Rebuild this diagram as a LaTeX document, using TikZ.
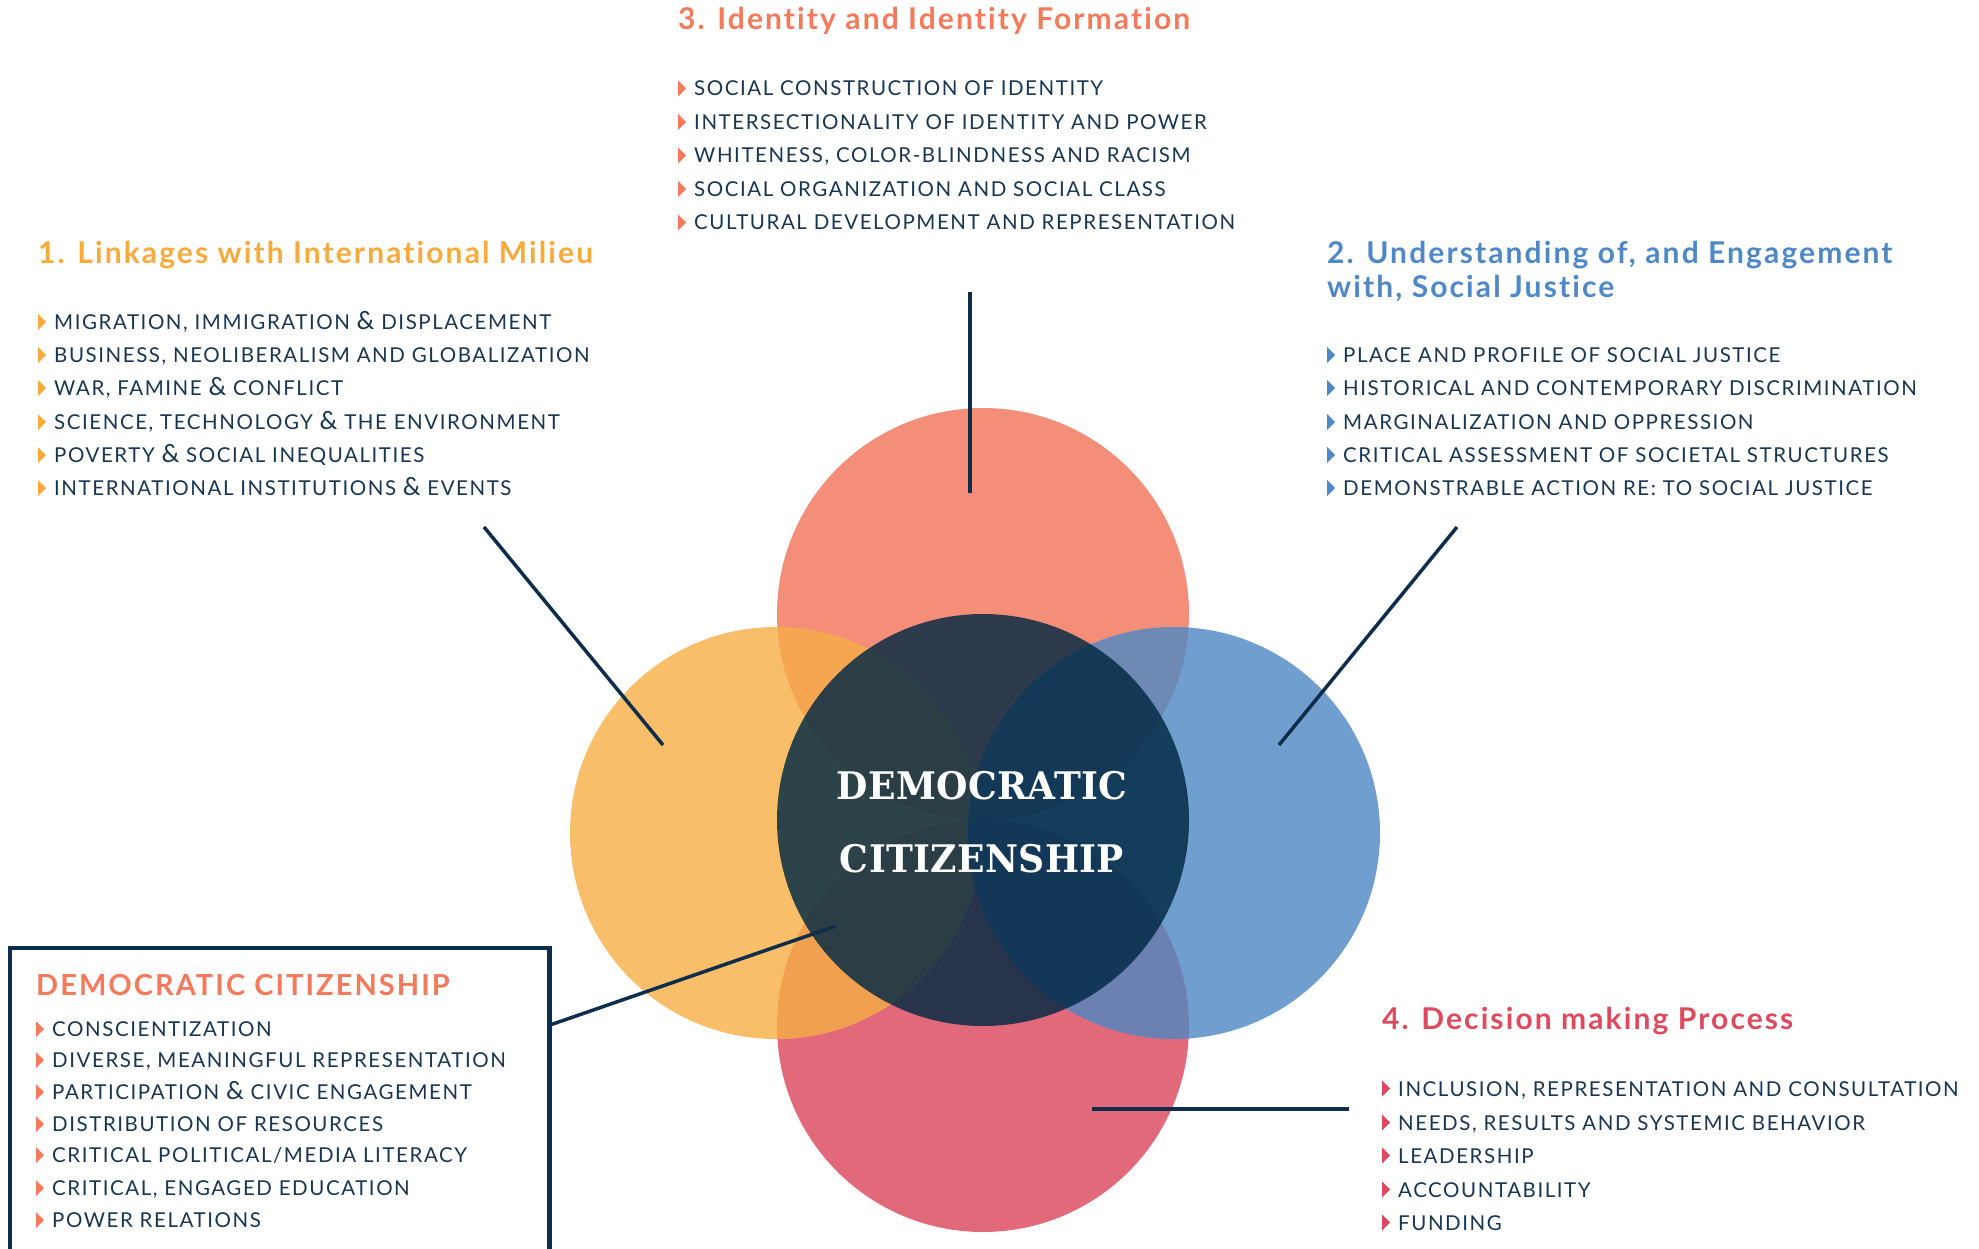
\documentclass[tikz,border=0pt]{standalone}
\usepackage{graphicx}
\usepackage{fontspec}
\setmainfont{Lato}
\newfontfamily\itemfont{Lato}[LetterSpace=7.6, Ligatures=NoCommon]
\newfontfamily\headfont{Lato}[LetterSpace=7, Ligatures=NoCommon]
\newfontfamily\ctrfont{DejaVu Serif}[LetterSpace=1]

\definecolor{cTop}{HTML}{F48E79}
\definecolor{cLeft}{HTML}{F9BE69}
\definecolor{cRight}{HTML}{709FCF}
\definecolor{cBot}{HTML}{E2697A}
\definecolor{cTL}{HTML}{F6A550}
\definecolor{cTR}{HTML}{6F89B5}
\definecolor{cBR}{HTML}{6B81B3}
\definecolor{cBL}{HTML}{F1A04F}
\definecolor{cCtr}{HTML}{002843}
\definecolor{navy}{HTML}{183651}
\definecolor{lineNavy}{HTML}{0E2D4A}
\definecolor{tSalmon}{HTML}{F47A5C}
\definecolor{tOrange}{HTML}{F9AA3C}
\definecolor{tBlue}{HTML}{4F88C6}
\definecolor{tRed}{HTML}{DD4A5E}

\newcommand\amp{{\fontsize{25}{24}\selectfont\&}}

\tikzset{
  disc/.style={circle, inner sep=0pt, minimum size=412pt, fill=#1},
  itemtext/.style={anchor=base west, inner sep=0pt, text=navy,
    font=\itemfont\fontsize{20.5}{24}\selectfont},
  headtext/.style={anchor=base west, inner sep=0pt, text=#1, align=left,
    font=\headfont\bfseries\fontsize{30}{34}\selectfont},
  ctrtext/.style={anchor=base, inner sep=0pt, text=white,
    font=\ctrfont\bfseries\fontsize{38}{46}\selectfont},
  conn/.style={draw=lineNavy, line width=3.5pt},
  frameline/.style={draw=lineNavy, line width=4.5pt},
}

% name, x of marker, baseline, marker colour, text
\newcommand\bulletitem[5]{%
  \node[itemtext] (#1) at (#2+16,#3) {#5};
  \fill[#4] (#2,#3+0.5) -- (#2,#3-15.5) -- (#2+8,#3-7.5) -- cycle;
}

\begin{document}
\begin{tikzpicture}[x=1pt,y=-1pt]
\useasboundingbox (0,0) rectangle (1979,1249);

% ---- circles ----
\node[disc=cTop]   (ctop)   at (983,614)  {};
\node[disc=cBot]   (cbot)   at (983,1026) {};
\node[disc=cLeft]  (cleft)  at (776,833)  {};
\node[disc=cRight] (cright) at (1174,833) {};
\begin{scope}
  \clip (cleft.center) circle[radius=206pt];
  \fill[cTL] (ctop.center) circle[radius=206pt];
  \fill[cBL] (cbot.center) circle[radius=206pt];
\end{scope}
\begin{scope}
  \clip (cright.center) circle[radius=206pt];
  \fill[cTR] (ctop.center) circle[radius=206pt];
  \fill[cBR] (cbot.center) circle[radius=206pt];
\end{scope}
\node[disc=cCtr, fill opacity=0.82] (cctr) at (983,820) {};
\node[ctrtext] (dem) at (982,799) {\scalebox{0.95}[1]{DEMOCRATIC}};
\node[ctrtext] (cit) at (982,872) {\scalebox{0.95}[1]{CITIZENSHIP}};

% ---- 3. Identity ----
\node[headtext=tSalmon] (h3) at (678,30) {3. Identity and Identity Formation};
\bulletitem{i31}{678}{96}{tSalmon}{SOCIAL CONSTRUCTION OF IDENTITY}
\bulletitem{i32}{678}{129.5}{tSalmon}{INTERSECTIONALITY OF IDENTITY AND POWER}
\bulletitem{i33}{678}{163}{tSalmon}{WHITENESS, COLOR-BLINDNESS AND RACISM}
\bulletitem{i34}{678}{196.5}{tSalmon}{SOCIAL ORGANIZATION AND SOCIAL CLASS}
\bulletitem{i35}{678}{230}{tSalmon}{CULTURAL DEVELOPMENT AND REPRESENTATION}

% ---- 1. Linkages ----
\node[headtext=tOrange] (h1) at (38,263.5) {1. Linkages with International Milieu};
\bulletitem{i11}{38}{329.5}{tOrange}{MIGRATION, IMMIGRATION \amp{} DISPLACEMENT}
\bulletitem{i12}{38}{362.5}{tOrange}{BUSINESS, NEOLIBERALISM AND GLOBALIZATION}
\bulletitem{i13}{38}{395.5}{tOrange}{WAR, FAMINE \amp{} CONFLICT}
\bulletitem{i14}{38}{429.5}{tOrange}{SCIENCE, TECHNOLOGY \amp{} THE ENVIRONMENT}
\bulletitem{i15}{38}{462.5}{tOrange}{POVERTY \amp{} SOCIAL INEQUALITIES}
\bulletitem{i16}{38}{495.5}{tOrange}{INTERNATIONAL INSTITUTIONS \amp{} EVENTS}

% ---- 2. Social Justice ----
\node[headtext=tBlue] (h2) at (1327,297.5) {2. Understanding of, and Engagement\\with, Social Justice};
\bulletitem{i21}{1327}{362.5}{tBlue}{PLACE AND PROFILE OF SOCIAL JUSTICE}
\bulletitem{i22}{1327}{395.5}{tBlue}{HISTORICAL AND CONTEMPORARY DISCRIMINATION}
\bulletitem{i23}{1327}{429.5}{tBlue}{MARGINALIZATION AND OPPRESSION}
\bulletitem{i24}{1327}{462.5}{tBlue}{CRITICAL ASSESSMENT OF SOCIETAL STRUCTURES}
\bulletitem{i25}{1327}{495.5}{tBlue}{DEMONSTRABLE ACTION RE: TO SOCIAL JUSTICE}

% ---- 4. Decision making ----
\node[headtext=tRed] (h4) at (1382,1029.5) {4. Decision making Process};
\bulletitem{i41}{1382}{1096}{tRed}{INCLUSION, REPRESENTATION AND CONSULTATION}
\bulletitem{i42}{1382}{1130}{tRed}{NEEDS, RESULTS AND SYSTEMIC BEHAVIOR}
\bulletitem{i43}{1382}{1163}{tRed}{LEADERSHIP}
\bulletitem{i44}{1382}{1197}{tRed}{ACCOUNTABILITY}
\bulletitem{i45}{1382}{1230}{tRed}{FUNDING}

% ---- box ----
\draw[frameline] (10,1265) |- (549.5,948) -- (549.5,1265);
\node[headtext=tSalmon, font=\headfont\bfseries\fontsize{29}{33}\selectfont] (hb) at (36,995.5) {DEMOCRATIC CITIZENSHIP};
\bulletitem{b1}{36}{1036.5}{tSalmon}{CONSCIENTIZATION}
\bulletitem{b2}{36}{1067.5}{tSalmon}{DIVERSE, MEANINGFUL REPRESENTATION}
\bulletitem{b3}{36}{1099.5}{tSalmon}{PARTICIPATION \amp{} CIVIC ENGAGEMENT}
\bulletitem{b4}{36}{1131.5}{tSalmon}{DISTRIBUTION OF RESOURCES}
\bulletitem{b5}{36}{1162.5}{tSalmon}{CRITICAL POLITICAL/MEDIA LITERACY}
\bulletitem{b6}{36}{1195.5}{tSalmon}{CRITICAL, ENGAGED EDUCATION}
\bulletitem{b7}{36}{1227.5}{tSalmon}{POWER RELATIONS}

% ---- connectors ----
\coordinate (v3a) at (970,292);  \coordinate (v3b) at (970,493);
\coordinate (d1a) at (484,527);  \coordinate (d1b) at (663,745);
\coordinate (d2a) at (1457,527); \coordinate (d2b) at (1279,745);
\coordinate (bxa) at (550,1025); \coordinate (bxb) at (836,926);
\coordinate (h4a) at (1092,1109);\coordinate (h4b) at (1349,1109);
\draw[conn] (v3a) -- (v3b);
\draw[conn] (d1a) -- (d1b);
\draw[conn] (d2a) -- (d2b);
\draw[conn] (bxa) -- (bxb);
\draw[conn] (h4a) -- (h4b);
\end{tikzpicture}
\end{document}
